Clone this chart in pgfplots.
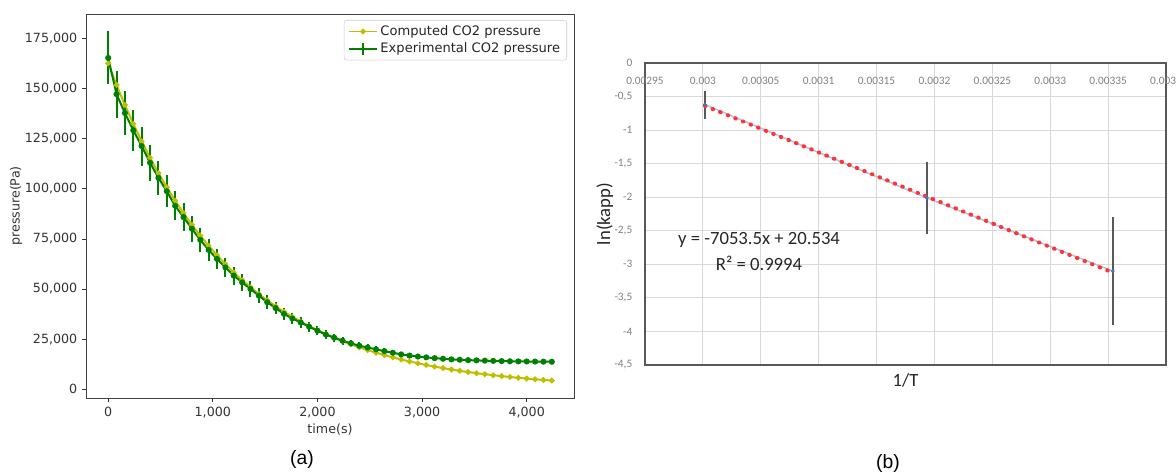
\documentclass[border=0pt]{standalone}
\usepackage{fontspec}
\setmainfont{DejaVu Sans}
\newfontfamily\calibri{Carlito}
\newfontfamily\arialf{Liberation Sans}
\usepackage{pgfplots}
\usepackage{pgfplotstable}
\pgfplotsset{compat=1.18}

\definecolor{mplyellow}{rgb}{0.75,0.75,0}
\definecolor{mplgreen}{rgb}{0,0.5,0}
\definecolor{xlgrid}{HTML}{D9D9D9}
\definecolor{xlframe}{HTML}{595959}
\definecolor{xltick}{HTML}{808080}
\definecolor{xlblue}{HTML}{4472C4}
\definecolor{xlline}{HTML}{B4C7E7}
\definecolor{xlred}{HTML}{FF3535}

% computed CO2 pressure (Pa) vs time (s)
\pgfplotstableread{
t p
0 162600
80 151850
160 141810
240 132440
320 123680
400 115500
480 107870
560 100740
640 94080
720 87860
800 82050
880 76630
960 71560
1040 66830
1120 62410
1200 58290
1280 54430
1360 50840
1440 47480
1520 44340
1600 41410
1680 38670
1760 36110
1840 33730
1920 31500
2000 29410
2080 27470
2160 25650
2240 23960
2320 22370
2400 20890
2480 19510
2560 18220
2640 17020
2720 15890
2800 14840
2880 13860
2960 12940
3040 12090
3120 11290
3200 10540
3280 9845
3360 9194
3440 8586
3520 8018
3600 7488
3680 6993
3760 6531
3840 6099
3920 5696
4000 5319
4080 4968
4160 4639
4240 4333
}\computed

% experimental CO2 pressure (Pa) with error
\pgfplotstableread{
t p e
0 165300 13200
80 147200 11800
160 137800 11000
240 129200 10300
320 121300 9700
400 113000 9000
480 105500 8400
560 98800 7900
640 91500 7300
720 85900 6900
800 80100 6400
880 74500 6000
960 69500 5600
1040 65000 5200
1120 60800 4900
1200 56700 4500
1280 53300 4300
1360 50000 4000
1440 46700 3700
1520 43400 3500
1600 40500 3200
1680 37600 3000
1760 35300 2800
1840 33300 2700
1920 31200 2500
2000 29200 2300
2080 27300 2200
2160 25700 2100
2240 24200 1900
2320 22900 1800
2400 21700 1700
2480 20800 1700
2560 19900 1600
2640 19000 1500
2720 18200 1500
2800 17400 1400
2880 16800 1300
2960 16300 1300
3040 15900 1300
3120 15500 1200
3200 15200 1200
3280 14900 1200
3360 14700 1200
3440 14500 1200
3520 14400 1200
3600 14250 1100
3680 14150 1100
3760 14050 1100
3840 13950 1100
3920 13900 1100
4000 13850 1100
4080 13800 1100
4160 13750 1100
4240 13700 1100
}\experimental

% Arrhenius plot
\pgfplotstableread{
invT lnk err
0.0030017 -0.62 0.16
0.0031934 -2.01 0.49
0.0033540 -3.10 0.75
}\arrhenius

\begin{document}
\begin{tikzpicture}
\useasboundingbox (0pt,0pt) rectangle (882pt,355.5pt);

% ---------- (a) ----------
\begin{axis}[
at={(64.5pt,57pt)},anchor=south west,
scale only axis,width=366pt,height=288pt,
xmin=-212,xmax=4452,ymin=-4375,ymax=187210,
scaled ticks=false,
xtick={0,1000,2000,3000,4000},
xticklabels={0,{1,000},{2,000},{3,000},{4,000}},
ytick={0,25000,50000,75000,100000,125000,150000,175000},
yticklabels={0,{25,000},{50,000},{75,000},{100,000},{125,000},{150,000},{175,000}},
tick pos=left,tick align=outside,major tick length=3pt,
tick style={black!80,line width=0.6pt},
axis line style={black!75,line width=0.6pt},
tick label style={font=\fontsize{9.5}{11}\selectfont,text=black!80},
xlabel={time(s)},ylabel={pressure(Pa)},
every axis x label/.style={at={(axis description cs:0.5,-0.083)},anchor=center,font=\fontsize{9.5}{11}\selectfont,text=black!80},
every axis y label/.style={at={(axis description cs:-0.143,0.5)},rotate=90,anchor=center,font=\fontsize{9.5}{11}\selectfont,text=black!80},
legend style={at={(1,1)},anchor=north east,xshift=-5.25pt,yshift=-4.5pt,
  draw=black!20,rounded corners=2pt,fill=white,
  font=\fontsize{9.8}{11}\selectfont,text=black!85,
  cells={anchor=west},row sep=0pt},
]
\addplot[mplyellow,line width=1.5pt,mark=*,mark size=1.3pt,
  legend image code/.code={\draw[mplyellow,line width=1.2pt] (0cm,0cm) -- (0.74cm,0cm);
  \fill[mplyellow] (0.37cm,0cm) circle (1.3pt);}]
  table[x=t,y=p] {\computed};
\addlegendentry{Computed CO2 pressure}
\addplot[mplgreen,line width=1.5pt,mark=*,mark size=1.5pt,
  legend image code/.code={\draw[mplgreen,line width=1.2pt] (0cm,0cm) -- (0.74cm,0cm);
  \draw[mplgreen,line width=1.2pt] (0.37cm,-4.5pt) -- (0.37cm,4.5pt);},
  error bars/.cd,y dir=both,y explicit,error mark=none,
  error bar style={mplgreen,line width=1.5pt}]
  table[x=t,y=p,y error=e] {\experimental};
\addlegendentry{Experimental CO2 pressure}
\end{axis}

% ---------- (b) ----------
\begin{axis}[
at={(483.75pt,81.75pt)},anchor=south west,
scale only axis,width=390.75pt,height=226.5pt,
xmin=0.00295,xmax=0.0034,ymin=-4.5,ymax=0,
scaled ticks=false,
xtick={0.00295,0.003,0.00305,0.0031,0.00315,0.0032,0.00325,0.0033,0.00335,0.0034},
xticklabels={0.00295,0.003,0.00305,0.0031,0.00315,0.0032,0.00325,0.0033,0.00335,0.0034},
ytick={-4.5,-4,-3.5,-3,-2.5,-2,-1.5,-1,-0.5,0},
yticklabels={{-4,5},{-4},{-3,5},{-3},{-2,5},{-2},{-1,5},{-1},{-0,5},{0}},
grid=major,major grid style={xlgrid,line width=0.75pt},
axis line style={xlframe,line width=1.5pt},
major tick length=0pt,
xticklabel pos=upper,
xticklabel style={anchor=north,yshift=-6.75pt},
yticklabel style={xshift=-6pt},
tick label style={font=\calibri\fontsize{8.5}{10}\selectfont,text=xltick},
xlabel={1/T},ylabel={ln(kapp)},
every axis x label/.style={at={(axis description cs:0.5,-0.05)},anchor=center,font=\calibri\fontsize{14}{16}\selectfont,text=black!85},
every axis y label/.style={at={(axis description cs:-0.077,0.5)},rotate=90,anchor=center,font=\calibri\fontsize{14}{16}\selectfont,text=black!85},
clip=false,
]
\addplot[xlline,line width=1.2pt,mark=none] table[x=invT,y=lnk] {\arrhenius};
\addplot[only marks,mark=*,mark size=1.2pt,xlblue,
  error bars/.cd,y dir=both,y explicit,error mark=-,
  error mark options={xlframe,mark size=2.5pt,line width=1.2pt},
  error bar style={xlframe,line width=1.5pt}]
  table[x=invT,y=lnk,y error=err] {\arrhenius};
\addplot[xlred,line width=3pt,dash pattern=on 0.5pt off 5.65pt,line cap=round,mark=none]
  coordinates {(0.0030017,-0.6386) (0.003354,-3.1233)};
\node[font=\calibri\fontsize{14}{16}\selectfont,text=black!85] at (axis cs:0.0030485,-2.637) {y = -7053.5x + 20.534};
\node[font=\calibri\fontsize{14}{16}\selectfont,text=black!85] at (axis cs:0.0030485,-2.98) {R² = 0.9994};
\end{axis}

\node[font=\arialf\fontsize{14.5}{17}\selectfont] at (226.5pt,11.25pt) {(a)};
\node[font=\arialf\fontsize{14.5}{17}\selectfont] at (666pt,8.25pt) {(b)};
\end{tikzpicture}
\end{document}
